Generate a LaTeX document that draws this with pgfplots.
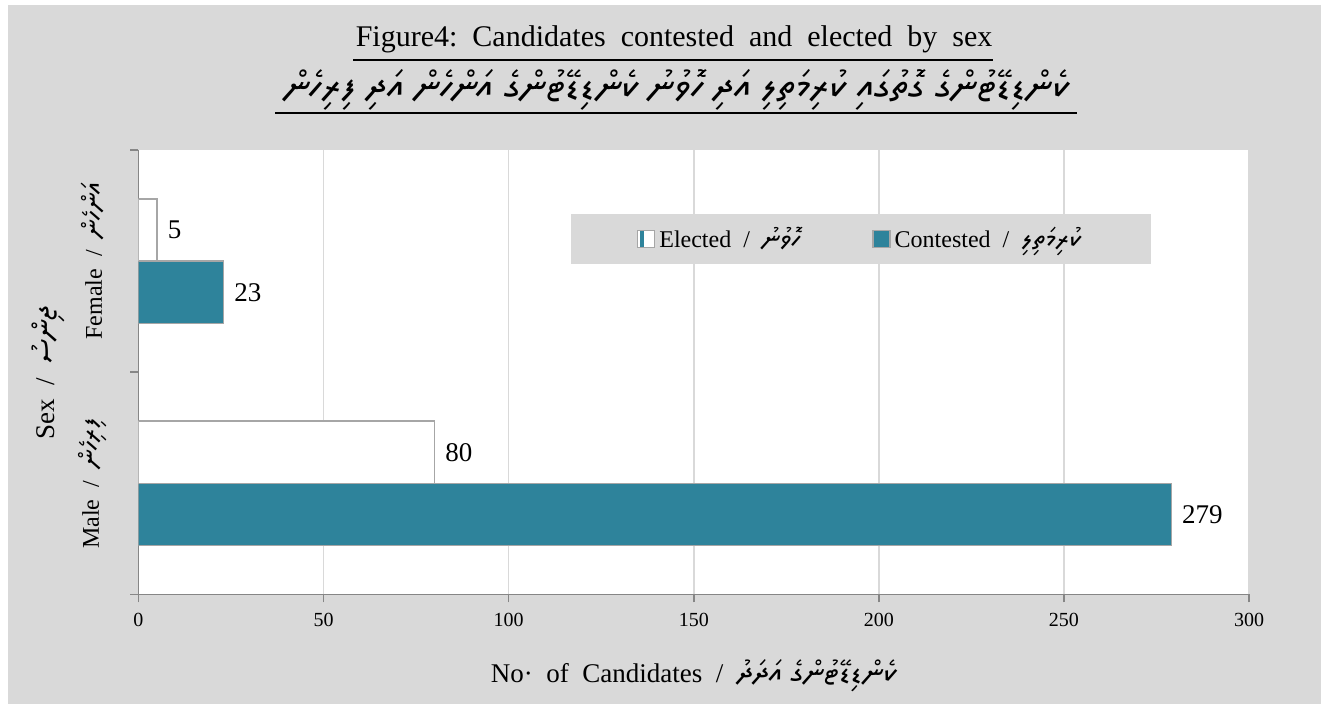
\documentclass[border=0pt]{standalone}
\usepackage{fontspec}
\setmainfont{Liberation Serif}
\usepackage{pgfplots}
\pgfplotsset{compat=1.18}
\TeXXeTstate=1
\IfFontExistsTF{Noto Sans Thaana}{\newfontfamily\thaana[Script=Thaana,Scale=1.15]{Noto Sans Thaana}}{\IfFontExistsTF{FreeSerif}{\newfontfamily\thaana[Script=Thaana,Scale=1.15]{FreeSerif}}{\newfontfamily\thaana{DejaVu Sans}}}
\newcommand\dv[1]{{\thaana\beginR #1\endR}}
\definecolor{bggray}{HTML}{D9D9D9}
\definecolor{tealc}{HTML}{2E839B}
\definecolor{axgray}{HTML}{868686}
\definecolor{bargray}{HTML}{A6A6A6}
\begin{document}
\begin{tikzpicture}
\useasboundingbox (0,0) rectangle (660.5pt,352pt);
\fill[bggray] (4pt,0) rectangle (660.5pt,349.5pt);
\node[font=\fontsize{15}{18}\selectfont, anchor=base, inner sep=0pt] at (337pt,328.5pt) {Figure4:\ \ Candidates\ \ contested\ \ and\ \ elected\ \ by\ \ sex};
\draw[line width=1pt] (176.5pt,322pt) -- (496.5pt,322pt);
\node[font=\fontsize{17.1}{20}\selectfont, inner sep=0pt] at (338.5pt,307pt) {\dv{ކެންޑިޑޭޓުންގެ ގޮތުގައި ކުރިމަތިލި އަދި ހޮވުނު ކެންޑިޑޭޓުންގެ އަންހެން އަދި ފިރިހެން}};
\draw[line width=1pt] (137.5pt,295.5pt) -- (538.5pt,295.5pt);
\begin{axis}[
  at={(69.25pt,54.75pt)}, anchor=south west,
  width=555.25pt, height=222.25pt, scale only axis,
  xbar, bar width=0.28,
  xmin=0, xmax=300, ymin=-0.5, ymax=1.5,
  xtick={0,50,...,300},
  ytick={-0.5,0.5,1.5}, yticklabels={},
  extra y ticks={0,1},
  extra y tick labels={{Male\ \ /\ \ \dv{ފިރިހެން}},{Female\ \ /\ \ \dv{އަންހެން}}},
  extra y tick style={major tick length=0pt, grid=none,
    yticklabel style={rotate=90, anchor=center, yshift=22.75pt, font=\fontsize{12}{14}\selectfont}},
  axis x line*=bottom, axis y line*=left,
  axis line style={axgray, line width=0.75pt},
  tick style={axgray, line width=0.75pt},
  tick align=outside, major tick length=4pt,
  xmajorgrids, grid style={bggray, line width=0.75pt},
  axis background/.style={fill=white},
  tick label style={font=\fontsize{10}{12}\selectfont},
  xticklabel style={yshift=-2pt},
  /pgf/number format/assume math mode=true,
  xlabel={No·\ \ of\ \ Candidates\ \ /\ \ \dv{ކެންޑިޑޭޓުންގެ އަދަދު}},
  ylabel={Sex\ \ /\ \ \dv{ޖިންސު}},
  x label style={at={(axis description cs:0.5,-0.1834)}, anchor=center, font=\fontsize{13.5}{16}\selectfont},
  y label style={at={(axis description cs:-0.0815,0.5)}, anchor=center, font=\fontsize{13.5}{16}\selectfont},
  nodes near coords,
  nodes near coords style={font=\fontsize{13.5}{16}\selectfont, anchor=west, inner sep=0pt, xshift=5pt, black},
  reverse legend, legend columns=2,
  legend style={at={(0.6506,0.80)}, anchor=center, fill=bggray, draw=none,
    font=\fontsize{12}{14}\selectfont, inner xsep=33pt, inner ysep=4.5pt,
    /tikz/every even column/.append style={column sep=34pt}},
]
\addplot[fill=tealc, draw=bargray, line width=0.75pt, bar shift=-0.14,
  legend image code/.code={\draw[fill=tealc, draw=bargray, line width=0.75pt] (0pt,-4.25pt) rectangle (8.5pt,4.25pt);}]
  coordinates {(23,1) (279,0)};
\addplot[fill=white, draw=bargray, line width=0.75pt, bar shift=0.14,
  legend image code/.code={\draw[fill=white, draw=bargray, line width=0.75pt] (0pt,-4.25pt) rectangle (8.5pt,4.25pt); \fill[tealc] (1.5pt,-3.5pt) rectangle (3pt,3.5pt);}]
  coordinates {(5,1) (80,0)};
\legend{{Contested\ \ /\ \ \dv{ކުރިމަތިލި}},{Elected\ \ /\ \ \dv{ހޮވުނު}}}
\end{axis}
\end{tikzpicture}
\end{document}
